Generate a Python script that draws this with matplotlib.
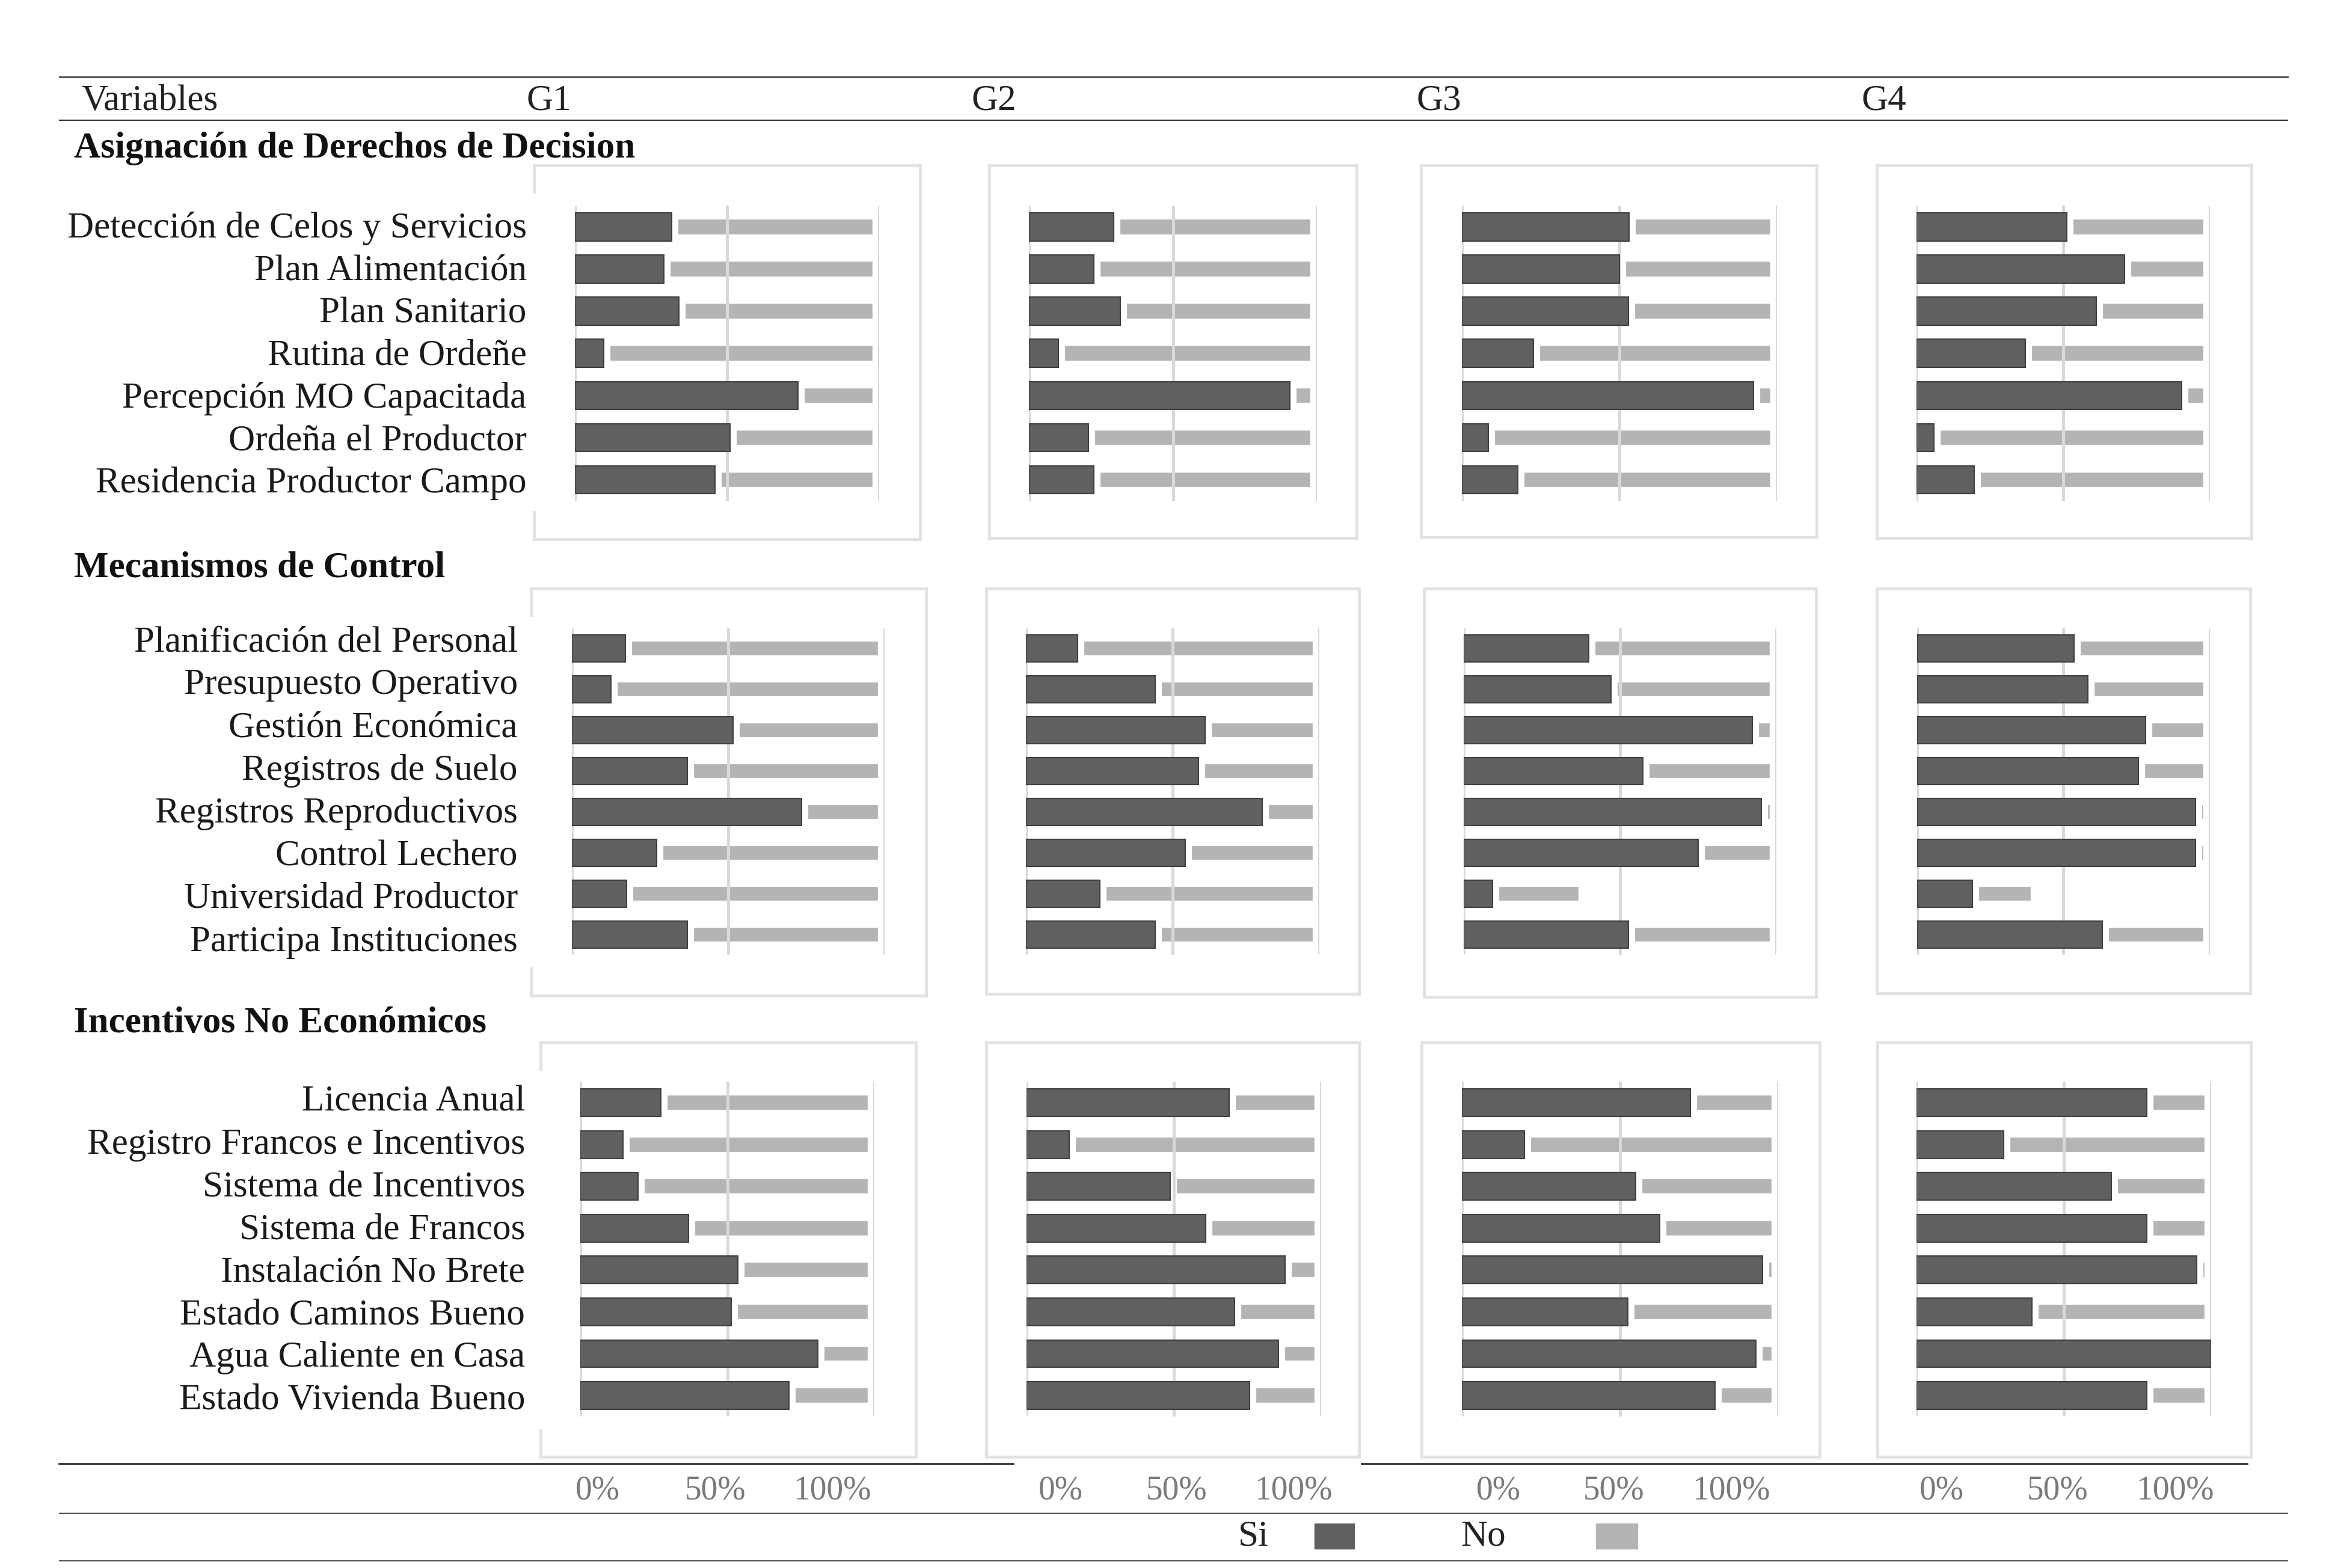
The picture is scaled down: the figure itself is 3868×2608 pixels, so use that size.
import matplotlib
matplotlib.use('Agg')
import matplotlib.pyplot as plt
from matplotlib.lines import Line2D
import numpy as np

plt.rcParams['font.family'] = ['Liberation Serif', 'DejaVu Serif']

groups = ['G1', 'G2', 'G3', 'G4']

sections = ['Asignación de Derechos de Decision',
            'Mecanismos de Control',
            'Incentivos No Económicos']

labels_1 = ['Detección de Celos y Servicios', 'Plan Alimentación', 'Plan Sanitario',
            'Rutina de Ordeñe', 'Percepción MO Capacitada', 'Ordeña el Productor',
            'Residencia Productor Campo']
labels_2 = ['Planificación del Personal', 'Presupuesto Operativo', 'Gestión Económica',
            'Registros de Suelo', 'Registros Reproductivos', 'Control Lechero',
            'Universidad Productor', 'Participa Instituciones']
labels_3 = ['Licencia Anual', 'Registro Francos e Incentivos', 'Sistema de Incentivos',
            'Sistema de Francos', 'Instalación No Brete', 'Estado Caminos Bueno',
            'Agua Caliente en Casa', 'Estado Vivienda Bueno']

# % Si per group (G1..G4)
si_1 = [[31.8, 29.2, 34.2, 9.5, 73.3, 51.1, 46.1],
        [29.3, 22.4, 31.7, 10.1, 90.6, 20.5, 22.4],
        [53.1, 50.0, 52.9, 22.7, 92.6, 8.4, 17.9],
        [51.2, 70.9, 61.4, 37.1, 90.5, 5.9, 19.7]]
si_2 = [[17.1, 12.5, 51.5, 36.9, 73.3, 27.0, 17.4, 36.9],
        [17.5, 44.0, 60.9, 58.8, 80.5, 54.2, 25.2, 44.0],
        [40.0, 47.2, 92.3, 57.3, 95.2, 75.0, 9.3, 52.7],
        [53.7, 58.3, 78.1, 75.6, 95.1, 95.1, 18.9, 63.4]]
si_3 = [[27.3, 14.5, 19.5, 36.7, 53.6, 51.2, 80.6, 70.9],
        [68.8, 14.6, 48.7, 60.9, 87.7, 70.7, 85.4, 75.7],
        [72.2, 19.9, 54.9, 62.6, 95.1, 52.6, 93.0, 80.0],
        [78.2, 29.6, 66.1, 78.2, 95.2, 39.1, 100.0, 78.2]]

# % No per group
no_1 = [[100 - v for v in g] for g in si_1]
no_2 = [[100 - v for v in g] for g in si_2]
no_2[2][6] = 29.6
no_2[3][6] = 22.2
no_3 = [[100 - v for v in g] for g in si_3]

tick_labels = ['0%', '50%', '100%']
legend_labels = ['Si', 'No']

c_si = '#606060'
c_no = '#b4b4b4'
c_grid = '#d9d9d9'
c_box = '#e2e2e2'

W, H = 1568.0, 1057.0
fig = plt.figure(figsize=(38.68, 26.08), dpi=100)
fig.patch.set_facecolor('white')


def fx(x):
    return x / W


def fy(y):
    return 1 - y / H


def hline(y, x0, x1, lw, color):
    fig.add_artist(Line2D([fx(x0), fx(x1)], [fy(y), fy(y)], lw=lw, color=color,
                          transform=fig.transFigure))


def vline(x, y0, y1, lw, color):
    fig.add_artist(Line2D([fx(x), fx(x)], [fy(y0), fy(y1)], lw=lw, color=color,
                          transform=fig.transFigure))


# layout of each row: axes top/bottom, boxes, axes x ranges
row_y = [(138.8, 337.5), (423.4, 643.7), (729.3, 954.8)]
row_x = [[(387.4, 592.7), (693.8, 887.7), (985.3, 1197.8), (1292.0, 1489.6)],
         [(385.7, 596.5), (691.7, 889.6), (986.7, 1197.3), (1292.3, 1489.6)],
         [(391.3, 589.6), (691.8, 890.7), (985.3, 1198.7), (1292.0, 1490.4)]]
boxes = [[(360.1, 620.2, 111.4, 363.5), (667.0, 914.7, 111.4, 362.7),
          (957.8, 1224.7, 111.4, 361.9), (1265.3, 1517.8, 111.4, 362.7)],
         [(357.9, 624.2, 396.8, 671.0), (664.9, 916.3, 396.8, 670.0),
          (960.0, 1224.2, 396.8, 671.9), (1265.3, 1516.9, 396.8, 669.7)],
         [(364.4, 617.4, 702.8, 982.0), (664.9, 916.3, 702.8, 982.0),
          (958.2, 1226.8, 702.8, 982.0), (1265.6, 1517.4, 702.8, 982.0)]]
# label column: right edge and first/last line
label_right = [355, 349, 354]
label_span = [(154, 326), (433, 635), (743, 944)]
section_y = [100, 383, 690]

all_labels = [labels_1, labels_2, labels_3]
all_si = [si_1, si_2, si_3]
all_no = [no_1, no_2, no_3]

# outer table rules
hline(52, 40, 1542, 2.2, '#555555')
hline(81, 40, 1542, 1.6, '#333333')
hline(987, 40, 683, 2.6, '#333333')
hline(987, 918, 1515, 2.6, '#333333')
hline(1020, 40, 1542, 1.6, '#555555')
hline(1052, 40, 1542, 1.6, '#555555')

fig.text(fx(55), fy(68), 'Variables', fontsize=44, va='center', ha='left', color='#222222')
for g, xg in zip(groups, [355, 655, 955, 1255]):
    fig.text(fx(xg), fy(68), g, fontsize=44, va='center', ha='left', color='#222222')

for r in range(3):
    fig.text(fx(50), fy(section_y[r]), sections[r], fontsize=44, fontweight='bold',
             va='center', ha='left', color='#111111')
    labels = all_labels[r]
    n = len(labels)
    y_pos = np.arange(n)
    ly = np.linspace(label_span[r][0], label_span[r][1], n)
    for lab, yy in zip(labels, ly):
        fig.text(fx(label_right[r]), fy(yy), lab, fontsize=44, ha='right', va='center',
                 color='#1a1a1a')
    y0, y1 = row_y[r]
    for gi in range(4):
        bx0, bx1, by0, by1 = boxes[r][gi]
        # panel frame
        hline(by0, bx0, bx1, 3.5, c_box)
        hline(by1, bx0, bx1, 3.5, c_box)
        vline(bx1, by0, by1, 3.5, c_box)
        if gi == 0:
            vline(bx0, by0, by0 + 18, 3.5, c_box)
            vline(bx0, by1 - 18, by1, 3.5, c_box)
        else:
            vline(bx0, by0, by1, 3.5, c_box)

        x0, x1 = row_x[r][gi]
        ax = fig.add_axes([fx(x0), fy(y1), (x1 - x0) / W, (y1 - y0) / H])
        ax.set_facecolor('none')
        si = all_si[r][gi]
        no = all_no[r][gi]
        ax.barh(y_pos, no, left=si, height=0.66, color=c_no, edgecolor='white',
                linewidth=16, zorder=1)
        ax.barh(y_pos, si, height=0.66, color=c_si, edgecolor='#3f3f3f',
                linewidth=1.5, zorder=3)
        for gx in [0, 50, 100]:
            ax.axvline(gx, color=c_grid, lw=3.6, zorder=2)
        ax.set_xlim(0, 100)
        ax.set_ylim(n - 0.5, -0.5)
        ax.set_xticks([])
        ax.set_yticks([])
        for s in ax.spines.values():
            s.set_visible(False)

# percent labels under the panels
tick_x = [[403, 482, 561], [715, 793, 872], [1010, 1088, 1167], [1309, 1387, 1466]]
for tx in tick_x:
    for t, xx in zip(tick_labels, tx):
        fig.text(fx(xx), fy(1005), t, fontsize=40, ha='center', va='center', color='#7a7a7a')

# legend
fig.text(fx(845), fy(1036), legend_labels[0], fontsize=44, ha='center', va='center', color='#222222')
fig.text(fx(1000), fy(1036), legend_labels[1], fontsize=44, ha='center', va='center', color='#222222')
fig.add_artist(plt.Rectangle((fx(886), fy(1044)), 27 / W, 17 / H, color=c_si,
                             transform=fig.transFigure))
fig.add_artist(plt.Rectangle((fx(1076), fy(1044)), 28 / W, 17 / H, color=c_no,
                             transform=fig.transFigure))

fig.savefig('out.png', dpi=100, facecolor='white')
